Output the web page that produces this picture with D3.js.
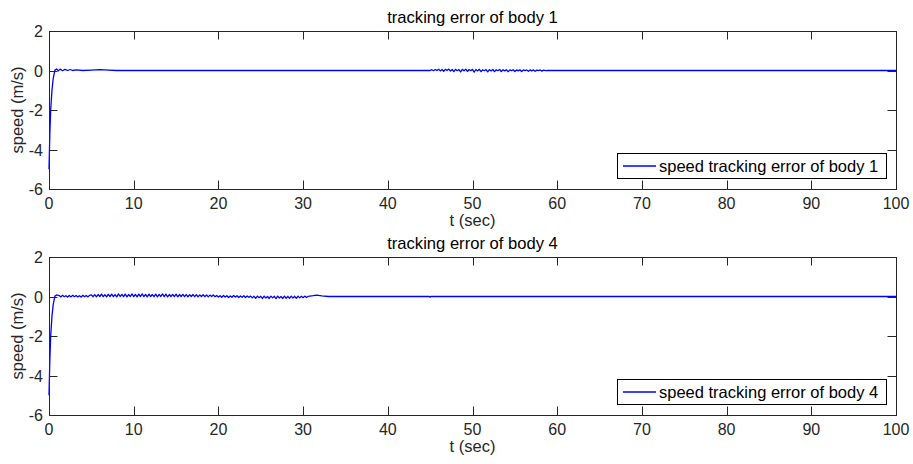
<!DOCTYPE html>
<meta charset="utf-8">
<style>
body { margin: 0; background: #fff; }
svg text { font-family: "Liberation Sans", Arial, sans-serif; fill: #262626; }
.line { fill: none; stroke: #0000ff; stroke-width: 1.3px; stroke-linejoin: round; }
</style>
<body>
<script src="https://d3js.org/d3.v7.min.js"></script>
<script>

// ---- data ----
var xTicks = [0, 10, 20, 30, 40, 50, 60, 70, 80, 90, 100];
var yTicks = [-6, -4, -2, 0, 2];

// body 1: start-up transient
var body1T = [0, 0.1, 0.2, 0.35, 0.5, 0.7, 0.9, 1.1, 1.3, 1.6, 1.9, 2.2, 2.5, 2.8, 3.2, 4, 5, 6, 7, 8, 10, 45];
var body1V = [-5, -3.2, -2.0, -1.0, -0.4, 0.02, 0.08, -0.02, 0.07, -0.01, 0.06, 0, 0.05, 0, 0.03, 0, 0.02, 0.04, 0.02, 0, 0, 0];
// body 1: ripple between 45 and 58.6 s (sampled every 0.2 s)
var body1NoiseStart = 45.2, body1NoiseStep = 0.2;
var body1Noise = [
  0.04, -0.01, 0.05, 0, 0.06, -0.02, 0.05, -0.04, 0.06, 0, 0.07, -0.03, 0.05, -0.06, 0.06, -0.01, 0.05, -0.07,
  0.06, -0.02, 0.07, -0.05, 0.05, -0.01, 0.06, -0.08, 0.05, -0.02, 0.06, -0.06, 0.04, -0.01, 0.05, -0.07,
  0.04, -0.02, 0.05, -0.06, 0.04, -0.01, 0.05, -0.05, 0.04, -0.02, 0.04, -0.06, 0.03, -0.01, 0.04, -0.05,
  0.03, -0.02, 0.04, -0.05, 0.03, -0.01, 0.03, -0.04, 0.03, -0.02, 0.03, -0.04, 0.02, -0.01, 0.03, -0.03,
  0.02, -0.01];
var body1TailT = [58.9, 60, 100];
var body1TailV = [0, 0, 0];

// body 4: start-up transient
var body4T = [0, 0.1, 0.2, 0.35, 0.5, 0.7, 0.9];
var body4V = [-5, -3.2, -2.0, -1.0, -0.4, 0.02, 0.08];
// body 4: ripple between 1.2 and 31 s (sampled every 0.2 s)
var body4NoiseStart = 1.2, body4NoiseStep = 0.2;
var body4Noise = [
  0.05, -0.02, 0.06, -0.01, 0.04, -0.03, 0.05, -0.02, 0.06, -0.01, 0.05, -0.02, 0.04, -0.03, 0.06, -0.01,
  0.05, -0.02, 0.06,
  0.08, -0.01, 0.09, -0.02, 0.1, 0, 0.12, -0.01, 0.09, -0.02, 0.11, 0, 0.12, -0.01, 0.1, -0.02, 0.13, 0,
  0.11, -0.01, 0.12, -0.02, 0.1, 0, 0.13, -0.01, 0.11, -0.02, 0.12, 0, 0.13, -0.01, 0.11, -0.02, 0.12, 0,
  0.1, -0.01, 0.12, -0.02, 0.11, 0, 0.13, -0.01, 0.12, -0.02, 0.1, 0, 0.11, -0.01, 0.12, -0.02, 0.1, 0,
  0.11, -0.01, 0.1, -0.02, 0.09, 0, 0.1, -0.01, 0.09, -0.02, 0.08, 0, 0.09, -0.01, 0.08, -0.02, 0.07, 0,
  0.08, -0.01,
  0.05, -0.03, 0.04, -0.04, 0.05, -0.03, 0.04, -0.05, 0.03, -0.04, 0.05, -0.03, 0.04, -0.05, 0.03, -0.04,
  0.04, -0.05, 0.03, -0.04,
  0.02, -0.07, 0.01, -0.09, 0.02, -0.06, 0.01, -0.1, 0.02, -0.08, 0, -0.1, 0.02, -0.07, 0.01, -0.11, 0.02,
  -0.08, 0, -0.1, 0.02, -0.09, 0.01, -0.1, 0.02, -0.08, 0.01, -0.09, 0.02, -0.07, 0.01, -0.06, 0.02, -0.05,
  0.01];
var body4TailT = [31.2, 31.6, 32.2, 33, 35, 44.9, 45, 45.1, 60, 100];
var body4TailV = [0.04, 0.07, 0.03, 0, 0, 0, -0.03, 0, 0, 0];

function buildSeries(headT, headV, noiseStart, noiseStep, noise, tailT, tailV) {
  var pts = headT.map(function(t, i) { return {t: t, v: headV[i]}; });
  noise.forEach(function(v, i) { pts.push({t: noiseStart + i * noiseStep, v: v}); });
  tailT.forEach(function(t, i) { pts.push({t: t, v: tailV[i]}); });
  pts.sort(function(a, b) { return a.t - b.t; });
  return pts;
}

var panels = [
  {title: "tracking error of body 1", legend: "speed tracking error of body 1", top: 31, bottom: 189,
   data: buildSeries(body1T, body1V, body1NoiseStart, body1NoiseStep, body1Noise, body1TailT, body1TailV)},
  {title: "tracking error of body 4", legend: "speed tracking error of body 4", top: 257, bottom: 415,
   data: buildSeries(body4T, body4V, body4NoiseStart, body4NoiseStep, body4Noise, body4TailT, body4TailV)}
];

var W = 913, H = 464, left = 49, right = 896, tickLen = 8.5;
var axisColor = "#262626";

var svg = d3.select("body").append("svg")
  .attr("width", W)
  .attr("height", H);

panels.forEach(function(p) {
  var x = d3.scaleLinear().domain([0, 100]).range([left, right]);
  var y = d3.scaleLinear().domain([-6, 2]).range([p.bottom, p.top]);
  var g = svg.append("g");

  // line
  var line = d3.line()
    .x(function(d) { return x(d.t); })
    .y(function(d) { return y(d.v); });
  g.append("path")
    .datum(p.data)
    .attr("class", "line")
    .attr("d", line);

  // box
  g.append("rect")
    .attr("x", left + 0.5).attr("y", p.top + 0.5)
    .attr("width", right - left).attr("height", p.bottom - p.top)
    .attr("fill", "none").attr("stroke", axisColor).attr("stroke-width", 1);

  // x ticks (inward, bottom and top)
  xTicks.forEach(function(v) {
    var xx = Math.round(x(v)) + 0.5;
    g.append("line").attr("x1", xx).attr("x2", xx).attr("y1", p.bottom).attr("y2", p.bottom - tickLen)
      .attr("stroke", axisColor);
    g.append("line").attr("x1", xx).attr("x2", xx).attr("y1", p.top).attr("y2", p.top + tickLen)
      .attr("stroke", axisColor);
    g.append("text").attr("x", x(v)).attr("y", p.bottom + 20)
      .attr("text-anchor", "middle").style("font-size", "16px").text(v);
  });

  // y ticks (inward, left and right)
  yTicks.forEach(function(v) {
    var yy = Math.round(y(v)) + 0.5;
    g.append("line").attr("x1", left).attr("x2", left + tickLen).attr("y1", yy).attr("y2", yy)
      .attr("stroke", axisColor);
    g.append("line").attr("x1", right).attr("x2", right - tickLen).attr("y1", yy).attr("y2", yy)
      .attr("stroke", axisColor);
    g.append("text").attr("x", left - 6).attr("y", y(v) + 6)
      .attr("text-anchor", "end").style("font-size", "16px").text(v);
  });

  // title
  g.append("text").attr("x", (left + right) / 2).attr("y", p.top - 8)
    .attr("text-anchor", "middle").style("font-size", "16.6px").style("fill", "#000").text(p.title);

  // x label
  g.append("text").attr("x", (left + right) / 2).attr("y", p.bottom + 37)
    .attr("text-anchor", "middle").style("font-size", "16.5px").text("t (sec)");

  // y label
  g.append("text")
    .attr("transform", "translate(23," + ((p.top + p.bottom) / 2) + ") rotate(-90)")
    .attr("text-anchor", "middle").style("font-size", "16.5px").text("speed (m/s)");

  // legend
  var lg = g.append("g").attr("transform", "translate(617," + (p.bottom - 36) + ")");
  lg.append("rect").attr("x", 0.5).attr("y", 0.5).attr("width", 269).attr("height", 25)
    .attr("fill", "#fff").attr("stroke", "#000").attr("stroke-width", 1);
  lg.append("line").attr("x1", 6).attr("x2", 39).attr("y1", 13).attr("y2", 13)
    .attr("stroke", "#0000ff").attr("stroke-width", 1.3);
  lg.append("text").attr("x", 42).attr("y", 19).style("font-size", "16.5px").style("fill", "#000")
    .text(p.legend);
});

</script>
</body>
